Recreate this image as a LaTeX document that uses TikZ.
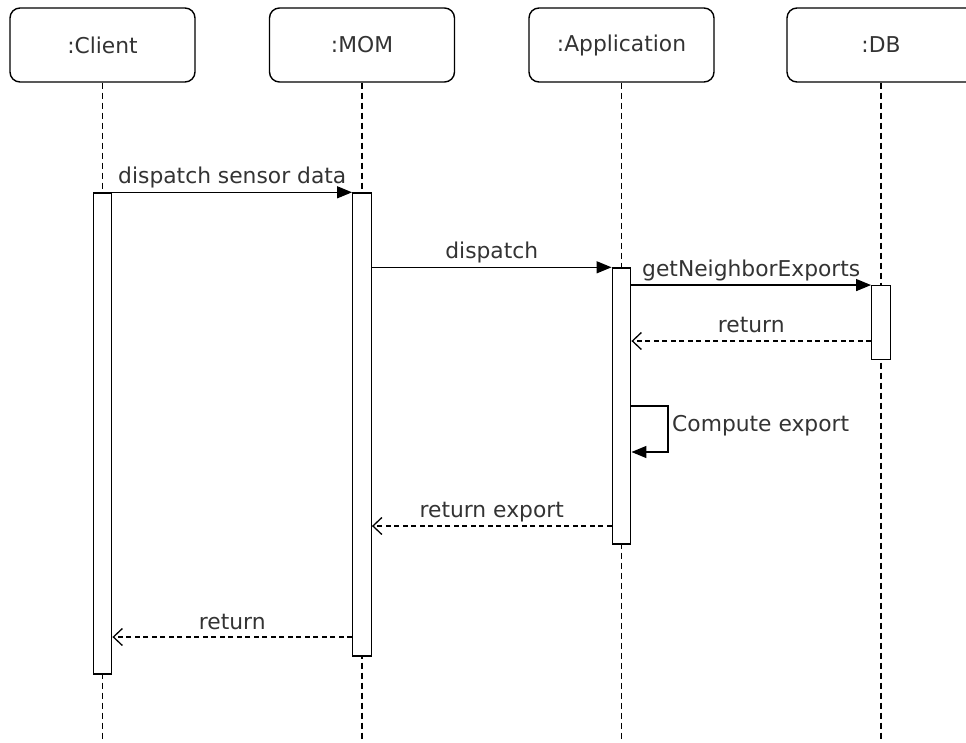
\documentclass[tikz,border=0pt]{standalone}
\usepackage{fontspec}
\setmainfont{DejaVu Sans}
\usetikzlibrary{arrows.meta}
\definecolor{txt}{HTML}{333333}
\begin{document}
\begin{tikzpicture}[x=1pt,y=-1pt,
  head/.style={draw, rounded corners=10pt, minimum width=185pt, minimum height=74pt,
    line width=1.4pt, text=txt, font=\fontsize{21.8}{26}\selectfont, inner sep=0pt},
  actbar/.style={draw, fill=white, minimum width=18.5pt, line width=1.4pt, inner sep=0pt},
  life/.style={line width=1.3pt, dash pattern=on 6pt off 4pt},
  msg/.style={line width=1.4pt, -{Triangle[length=15pt,width=12pt]}},
  ret/.style={line width=1.3pt, dash pattern=on 5pt off 3.5pt, -{Straight Barb[length=9pt,width=17pt]}},
  lbl/.style={text=txt, font=\fontsize{21.8}{26}\selectfont, inner sep=0pt, anchor=base}]
\useasboundingbox (0,0) rectangle (966,742);
% heads
\node[head] (client) at (102.5,45) {:Client};
\node[head] (mom) at (362,45) {:MOM};
\node[head] (app) at (621.5,45) {:Application};
\node[head, minimum width=212pt] (db) at (893,45) {\hspace*{-24pt}:DB};
% lifeline ends
\coordinate (clientend) at (102.5,742);
\coordinate (momend) at (362,742);
\coordinate (append) at (621.5,742);
\coordinate (dbend) at (881,742);
\draw[life] (client.south) -- (clientend);
\draw[life] (mom.south) -- (momend);
\draw[life] (app.south) -- (append);
\draw[life] (db.south -| dbend) -- (dbend);
% activation bars
\node[actbar, minimum height=481pt] (cbar) at (102.5,433.5) {};
\node[actbar, minimum height=463pt] (mbar) at (362,424.5) {};
\node[actbar, minimum height=276pt] (abar) at (621.5,406) {};
\node[actbar, minimum height=73.5pt] (dbar) at (881,322.5) {};
% messages
\draw[msg] (cbar.north east) -- node[midway, lbl, yshift=9pt] {dispatch sensor data} (mbar.north west);
\draw[msg] (mbar.east |- abar.north) -- node[midway, lbl, yshift=9pt] {dispatch} (abar.north west);
\draw[msg] (abar.east |- dbar.north) -- node[midway, lbl, yshift=9pt] {getNeighborExports} (dbar.north west);
\coordinate (r1) at (0,341);
\draw[ret] (dbar.west |- r1) -- node[midway, lbl, yshift=9pt] {return} (abar.east |- r1);
\coordinate (s1) at (0,406);
\coordinate (s2) at (0,452);
\coordinate (sx) at (668,0);
\draw[msg] (abar.east |- s1) -| (sx |- s2) -- (abar.east |- s2);
\node[lbl, anchor=base west] (compute) at (672,431) {Compute export};
\coordinate (r2) at (0,526);
\draw[ret] (abar.west |- r2) -- node[midway, lbl, yshift=9pt] {return export} (mbar.east |- r2);
\coordinate (r3) at (0,637);
\draw[ret] (mbar.west |- r3) -- node[midway, lbl, yshift=8pt] {return} (cbar.east |- r3);
\end{tikzpicture}
\end{document}
